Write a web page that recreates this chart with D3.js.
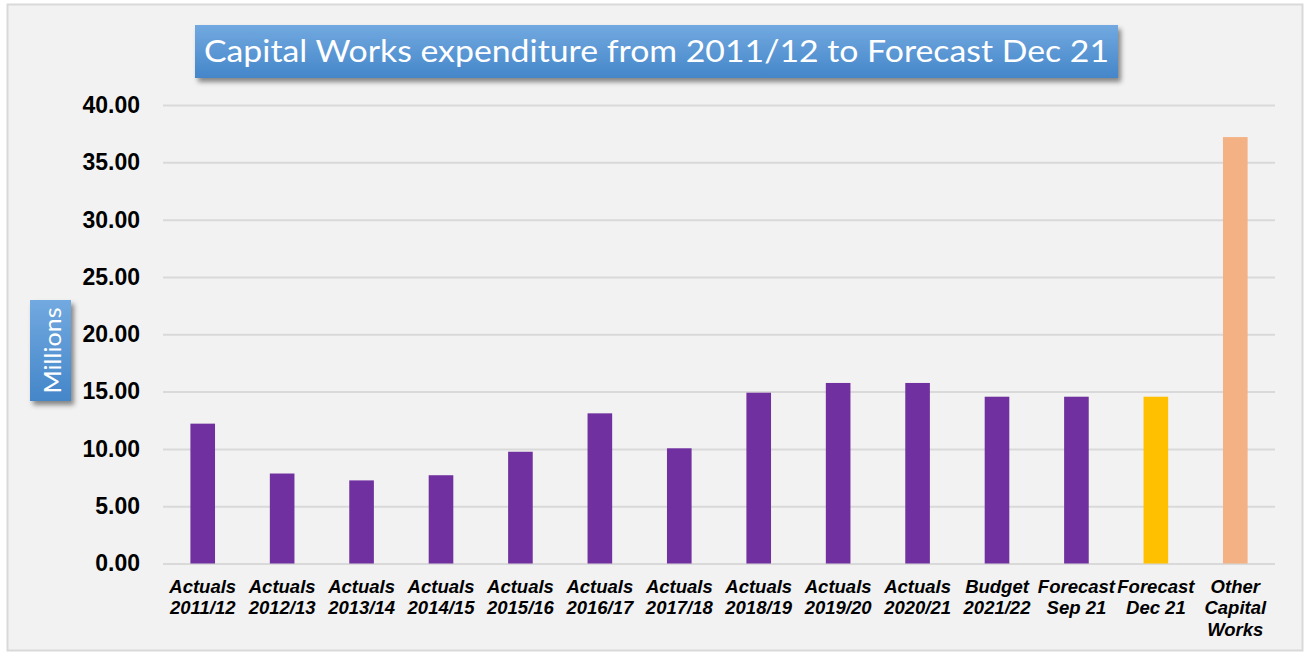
<!DOCTYPE html>
<html>
<head>
<meta charset="utf-8">
<script src="https://cdn.jsdelivr.net/npm/d3@7"></script>
<style>
  html, body { margin: 0; padding: 0; background: #ffffff; }
  svg { display: block; }
</style>
</head>
<body>
<svg id="chart" width="1307" height="655"></svg>
<script>
// Category labels (each entry is a list of label lines)
const categories = [
  ["Actuals", "2011/12"],
  ["Actuals", "2012/13"],
  ["Actuals", "2013/14"],
  ["Actuals", "2014/15"],
  ["Actuals", "2015/16"],
  ["Actuals", "2016/17"],
  ["Actuals", "2017/18"],
  ["Actuals", "2018/19"],
  ["Actuals", "2019/20"],
  ["Actuals", "2020/21"],
  ["Budget", "2021/22"],
  ["Forecast", "Sep 21"],
  ["Forecast", "Dec 21"],
  ["Other", "Capital", "Works"]
];

// Expenditure in millions
const values = [12.2, 7.85, 7.25, 7.7, 9.75, 13.1, 10.05, 14.9, 15.75, 15.75, 14.55, 14.55, 14.55, 37.2];

// Bar fill per category
const barColors = [
  "#7030a0", "#7030a0", "#7030a0", "#7030a0", "#7030a0", "#7030a0", "#7030a0",
  "#7030a0", "#7030a0", "#7030a0", "#7030a0", "#7030a0", "#ffc000", "#f4b183"
];

const yTicks = [0, 5, 10, 15, 20, 25, 30, 35, 40];

const titleText = "Capital Works expenditure from 2011/12 to Forecast Dec 21";
const yAxisTitle = "Millions";

const svg = d3.select("#chart");
const W = 1307, H = 655;

const defs = svg.append("defs");
const grad = defs.append("linearGradient").attr("id", "boxGrad")
  .attr("x1", 0).attr("y1", 0).attr("x2", 0).attr("y2", 1);
grad.append("stop").attr("offset", "0%").attr("stop-color", "#72a9e0");
grad.append("stop").attr("offset", "100%").attr("stop-color", "#4486c9");

const shadow = defs.append("filter").attr("id", "shadow")
  .attr("x", "-10%").attr("y", "-30%").attr("width", "130%").attr("height", "170%");
shadow.append("feDropShadow").attr("dx", 3).attr("dy", 4).attr("stdDeviation", 2.5)
  .attr("flood-color", "#000").attr("flood-opacity", 0.45);

// Chart area background and frame
svg.append("rect").attr("x", 0).attr("y", 0).attr("width", W).attr("height", H).attr("fill", "#ffffff");
svg.append("rect").attr("x", 7.5).attr("y", 4.5).attr("width", 1295).attr("height", 646)
  .attr("fill", "#f2f2f2").attr("stroke", "#d9d9d9").attr("stroke-width", 2);

const margin = { left: 163, right: 32, top: 105, bottom: 91 };
const plotW = W - margin.left - margin.right;
const plotH = H - margin.top - margin.bottom;

const x = d3.scaleBand()
  .domain(d3.range(categories.length))
  .range([margin.left, margin.left + plotW])
  .paddingInner(0.69)
  .paddingOuter(0.345);

const y = d3.scaleLinear().domain([0, 40]).range([margin.top + plotH - 0.5, margin.top]);

// Gridlines and y tick labels
const yAxis = d3.axisLeft(y).tickValues(yTicks).tickSize(-plotW).tickPadding(23)
  .tickFormat(d3.format(".2f"));
const gy = svg.append("g").attr("transform", `translate(${margin.left},0)`).call(yAxis);
gy.select(".domain").remove();
gy.selectAll(".tick line").attr("stroke", "#d9d9d9").attr("stroke-width", 2);
gy.selectAll(".tick text")
  .attr("font-family", "Liberation Sans, Arial, sans-serif")
  .attr("font-size", 23).attr("font-weight", "bold").attr("fill", "#000");

// Bars
svg.append("g").selectAll("rect").data(values).join("rect")
  .attr("x", (d, i) => x(i))
  .attr("width", x.bandwidth())
  .attr("y", d => y(d))
  .attr("height", d => y(0) - y(d))
  .attr("fill", (d, i) => barColors[i]);

// Category labels
const xAxis = d3.axisBottom(x).tickSize(0).tickFormat("");
const gx = svg.append("g").attr("transform", `translate(0,${y(0)})`).call(xAxis);
gx.select(".domain").remove();
gx.selectAll(".tick").each(function (i) {
  const t = d3.select(this).append("text")
    .attr("text-anchor", "middle")
    .attr("font-family", "Liberation Sans, Arial, sans-serif")
    .attr("font-size", 18.5).attr("font-weight", "bold").attr("font-style", "italic")
    .attr("fill", "#000");
  categories[i].forEach((line, k) => {
    t.append("tspan").attr("x", 0).attr("y", 29 + k * 21.5).text(line);
  });
});

// Title box
const title = svg.append("g");
title.append("rect").attr("x", 195).attr("y", 25).attr("width", 923).attr("height", 53)
  .attr("fill", "url(#boxGrad)").attr("filter", "url(#shadow)");
title.append("text").attr("x", 656.5).attr("y", 62).attr("text-anchor", "middle")
  .attr("font-family", "Lato, Open Sans, sans-serif").attr("font-size", 31)
  .attr("fill", "#ffffff")
  .attr("textLength", 905).attr("lengthAdjust", "spacingAndGlyphs")
  .text(titleText);

// Y-axis title box
const yt = svg.append("g");
yt.append("rect").attr("x", 30).attr("y", 300).attr("width", 41).attr("height", 101)
  .attr("fill", "url(#boxGrad)").attr("filter", "url(#shadow)");
yt.append("text").attr("transform", "translate(61,350.5) rotate(-90)")
  .attr("text-anchor", "middle")
  .attr("font-family", "Lato, Open Sans, sans-serif").attr("font-size", 23)
  .attr("fill", "#ffffff")
  .attr("textLength", 86).attr("lengthAdjust", "spacingAndGlyphs")
  .text(yAxisTitle);
</script>
</body>
</html>
